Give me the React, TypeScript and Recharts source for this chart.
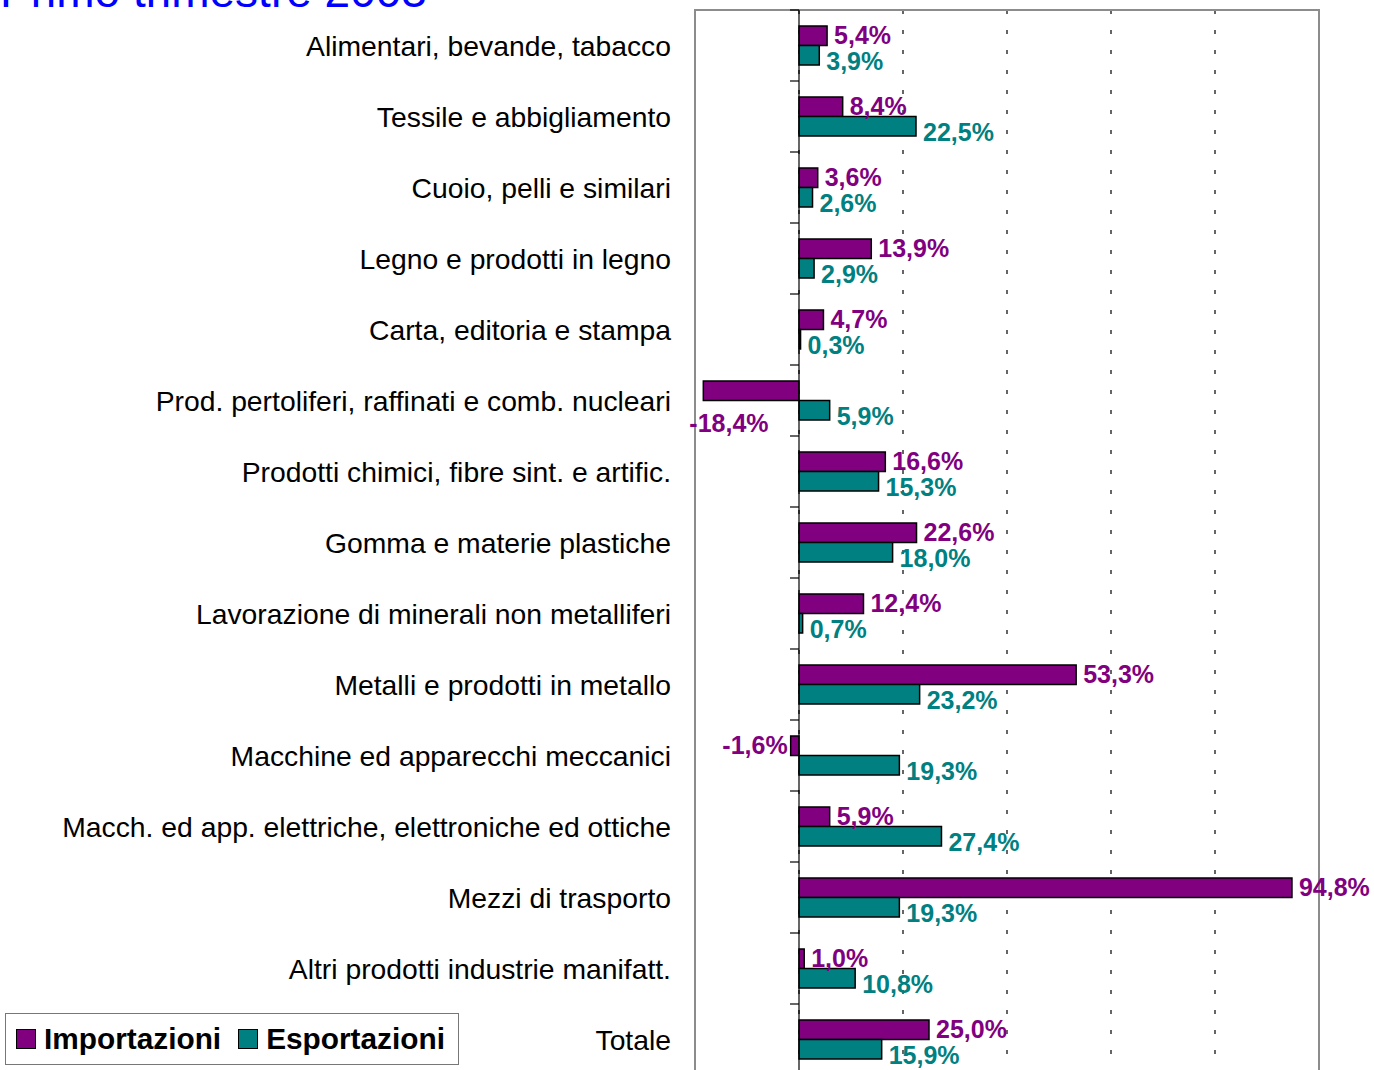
import React from 'react';
import {
  BarChart,
  Bar,
  XAxis,
  YAxis,
  CartesianGrid,
  ReferenceLine,
  ReferenceArea,
  LabelList,
  Legend
} from 'recharts';

const categories = [
  'Alimentari, bevande, tabacco',
  'Tessile e abbigliamento',
  'Cuoio, pelli e similari',
  'Legno e prodotti in legno',
  'Carta, editoria e stampa',
  'Prod. pertoliferi, raffinati e comb. nucleari',
  'Prodotti chimici, fibre sint. e artific.',
  'Gomma e materie plastiche',
  'Lavorazione di minerali non metalliferi',
  'Metalli e prodotti in metallo',
  'Macchine ed apparecchi meccanici',
  'Macch. ed app. elettriche, elettroniche ed ottiche',
  'Mezzi di trasporto',
  'Altri prodotti industrie manifatt.',
  'Totale'
];

const importazioni = [5.4, 8.4, 3.6, 13.9, 4.7, -18.4, 16.6, 22.6, 12.4, 53.3, -1.6, 5.9, 94.8, 1.0, 25.0];
const esportazioni = [3.9, 22.5, 2.6, 2.9, 0.3, 5.9, 15.3, 18.0, 0.7, 23.2, 19.3, 27.4, 19.3, 10.8, 15.9];

const xTicks = [-20, 0, 20, 40, 60, 80, 100];

const PURPLE = '#800080';
const TEAL = '#008080';
const FONT = '"Liberation Sans", Arial, sans-serif';

// chart geometry
const CHART_W = 1374;
const CHART_H = 1080;
const MARGIN = { top: 10, right: 55, left: 0, bottom: 5 };
const AXIS_W = 695;
const PLOT_W = CHART_W - AXIS_W - MARGIN.right;
const PLOT_H = CHART_H - MARGIN.top - MARGIN.bottom;
const BAND = PLOT_H / categories.length;
const ZERO_X = AXIS_W + (PLOT_W * (0 - xTicks[0])) / (xTicks[xTicks.length - 1] - xTicks[0]);

const chartData = categories.map((name, i) => ({
  name,
  imp: importazioni[i],
  esp: esportazioni[i]
}));

const fmt = (v: number) => v.toFixed(1).replace('.', ',') + '%';

function CategoryTick(props: any) {
  const { y, payload, index } = props;
  const top = y - BAND / 2;
  return (
    <g>
      <text
        x={AXIS_W - 24}
        y={y}
        textAnchor="end"
        dominantBaseline="central"
        fontSize={28.3}
        fontFamily={FONT}
        fill="#000"
      >
        {payload.value}
      </text>
      <line x1={ZERO_X - 9} x2={ZERO_X} y1={top} y2={top} stroke="#000" strokeWidth={1.2} />
      {index === categories.length - 1 && (
        <line x1={ZERO_X - 9} x2={ZERO_X} y1={top + BAND} y2={top + BAND} stroke="#000" strokeWidth={1.2} />
      )}
    </g>
  );
}

const valueLabel = (color: string, dy: number) => (props: any) => {
  const { x, y, width, height, value } = props;
  const left = Math.min(x, x + width);
  const right = Math.max(x, x + width);
  const cy = y + height / 2 + dy;
  const text = fmt(value);
  const common = {
    fontSize: 25,
    fontWeight: 700,
    fontFamily: FONT,
    fill: color
  };
  if (value >= 0) {
    return (
      <text x={right + 7} y={cy} dominantBaseline="central" {...common}>
        {text}
      </text>
    );
  }
  // negative: left of the bar, or below it when it does not fit in the plot
  const approxW = text.length * 14;
  if (left - 3 - approxW < AXIS_W) {
    return (
      <text x={left - 14} y={y + height + 22} dominantBaseline="central" {...common}>
        {text}
      </text>
    );
  }
  return (
    <text x={left - 3} y={cy} textAnchor="end" dominantBaseline="central" {...common}>
      {text}
    </text>
  );
};

function LegendBox() {
  const item = (color: string, label: string, gapAfter: number) => (
    <span style={{ display: 'inline-flex', alignItems: 'center', marginRight: gapAfter }}>
      <span
        style={{
          display: 'inline-block',
          boxSizing: 'border-box',
          width: 20,
          height: 20,
          background: color,
          border: '1.5px solid #000',
          marginRight: 8
        }}
      />
      <span>{label}</span>
    </span>
  );
  return (
    <div
      style={{
        boxSizing: 'border-box',
        width: 454,
        height: 52,
        border: '1.5px solid #777',
        background: '#fff',
        display: 'flex',
        alignItems: 'center',
        paddingLeft: 10,
        fontFamily: FONT,
        fontWeight: 700,
        fontSize: 29.8,
        color: '#000',
        whiteSpace: 'nowrap'
      }}
    >
      {item(PURPLE, 'Importazioni', 17)}
      {item(TEAL, 'Esportazioni', 0)}
    </div>
  );
}

export default function App() {
  return (
    <div
      style={{
        position: 'absolute',
        left: 0,
        top: 0,
        width: CHART_W,
        height: 1070,
        overflow: 'hidden',
        background: '#fff'
      }}
    >
      <div
        style={{
          position: 'absolute',
          left: 0,
          top: -32,
          fontFamily: FONT,
          fontSize: 46,
          lineHeight: '46px',
          color: '#0000ff',
          whiteSpace: 'nowrap'
        }}
      >
        Primo trimestre 2003
      </div>
      <BarChart
        width={CHART_W}
        height={CHART_H}
        data={chartData}
        layout="vertical"
        margin={MARGIN}
        barGap={0}
      >
        <CartesianGrid
          horizontal={false}
          vertical
          stroke="#333"
          strokeWidth={1.5}
          strokeDasharray="4 16"
        />
        <XAxis type="number" domain={[-20, 100]} ticks={xTicks} hide />
        <YAxis
          type="category"
          dataKey="name"
          width={AXIS_W}
          axisLine={false}
          tickLine={false}
          tick={<CategoryTick />}
          interval={0}
        />
        <ReferenceArea
          x1={-20}
          x2={100}
          fill="none"
          fillOpacity={0}
          stroke="#8c8c8c"
          strokeWidth={2}
        />
        <Bar
          dataKey="imp"
          name="Importazioni"
          fill={PURPLE}
          stroke="#000"
          strokeWidth={1.5}
          barSize={19.5}
          isAnimationActive={false}
        >
          <LabelList dataKey="imp" content={valueLabel(PURPLE, -1)} />
        </Bar>
        <Bar
          dataKey="esp"
          name="Esportazioni"
          fill={TEAL}
          stroke="#000"
          strokeWidth={1.5}
          barSize={19.5}
          isAnimationActive={false}
        >
          <LabelList dataKey="esp" content={valueLabel(TEAL, 6)} />
        </Bar>
        <ReferenceLine x={0} stroke="#000" strokeWidth={1.2} />
        <Legend
          layout="vertical"
          align="center"
          verticalAlign="middle"
          content={() => <LegendBox />}
          wrapperStyle={{ position: 'absolute', left: 5, top: 1013, width: 454, height: 52 }}
        />
      </BarChart>
    </div>
  );
}
